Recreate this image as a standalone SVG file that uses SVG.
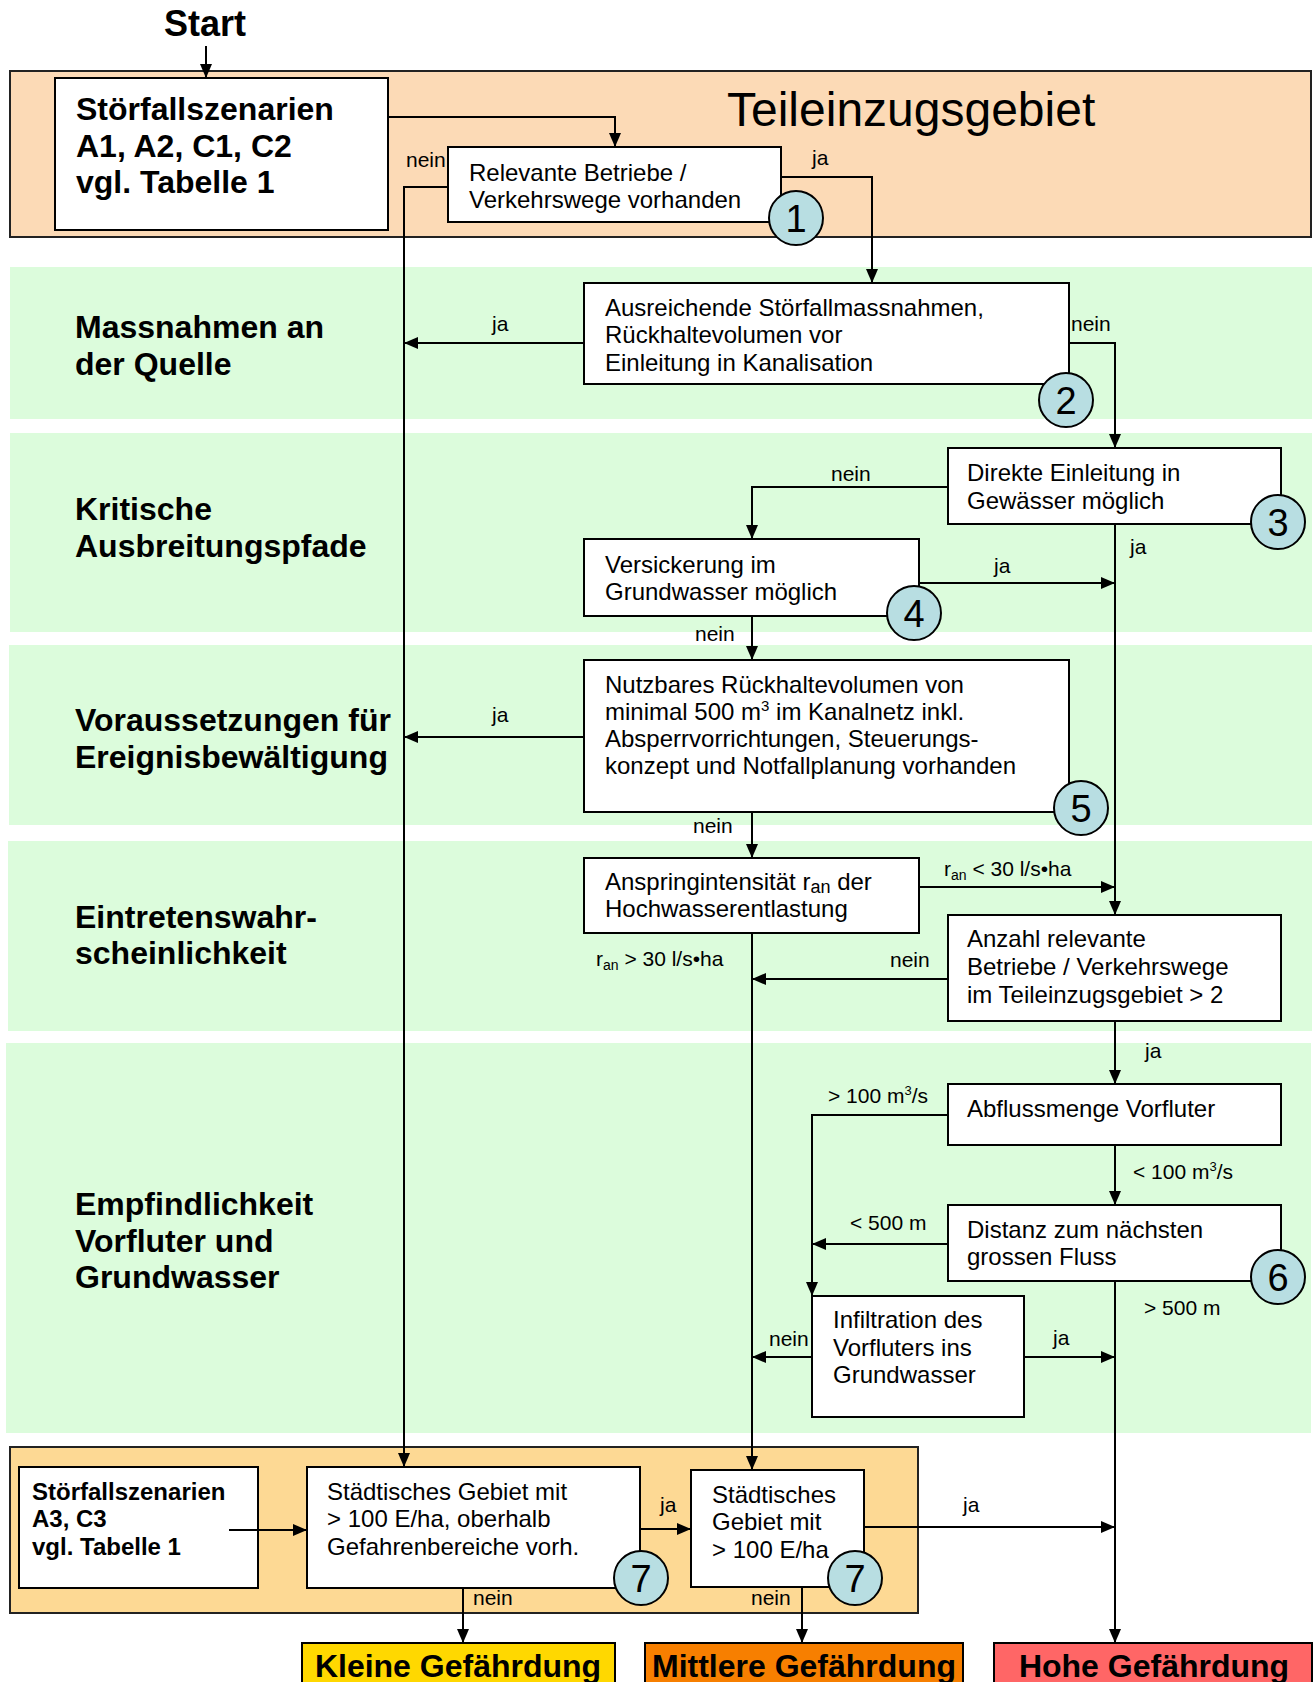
<svg xmlns="http://www.w3.org/2000/svg" width="1316" height="1682" viewBox="0 0 1316 1682">
<style>
text{font-family:"Liberation Sans",Arial,sans-serif;fill:#000}
.t{font-size:24px}
.h{font-size:32px;font-weight:bold}
.hs{font-size:24px;font-weight:bold}
.l{font-size:21px}
.n{font-size:38px;text-anchor:middle}
.box{fill:#fff;stroke:#000;stroke-width:2}
.band{fill:#DCFCDC}
.num{fill:#B8DEE2;stroke:#000;stroke-width:2}
.c{fill:none;stroke:#000;stroke-width:2;marker-end:url(#ah)}
.out{stroke:#000;stroke-width:2}
.ot{font-size:32px;font-weight:bold;text-anchor:middle}
</style>
<defs>
<marker id="ah" viewBox="0 0 14 12" refX="14" refY="6" markerWidth="14" markerHeight="12" markerUnits="userSpaceOnUse" orient="auto">
<path d="M0,0 L14,6 L0,12 z" fill="#000"/>
</marker>
</defs>
<rect width="1316" height="1682" fill="#fff"/>
<g id="bands">
<rect x="10" y="71" width="1301" height="166" fill="#FCDAB6" stroke="#222" stroke-width="2"/>
<rect class="band" x="10" y="267" width="1302" height="152"/>
<rect class="band" x="10" y="433" width="1302" height="199"/>
<rect class="band" x="9" y="645" width="1303" height="180"/>
<rect class="band" x="8" y="841" width="1304" height="190"/>
<rect class="band" x="6" y="1043" width="1305" height="390"/>
<rect x="10" y="1447" width="908" height="166" fill="#FDD994" stroke="#222" stroke-width="2"/>
<text x="727" y="126" style="font-size:48px">Teileinzugsgebiet</text>
<text x="205" y="36" text-anchor="middle" style="font-size:36px;font-weight:bold">Start</text>
</g>
<g id="section-labels">
<text class="h" x="75" y="338">Massnahmen an</text>
<text class="h" x="75" y="375">der Quelle</text>
<text class="h" x="75" y="520">Kritische</text>
<text class="h" x="75" y="557">Ausbreitungspfade</text>
<text class="h" x="75" y="731">Voraussetzungen für</text>
<text class="h" x="75" y="768">Ereignisbewältigung</text>
<text class="h" x="75" y="928">Eintretenswahr-</text>
<text class="h" x="75" y="964">scheinlichkeit</text>
<text class="h" x="75" y="1215">Empfindlichkeit</text>
<text class="h" x="75" y="1252">Vorfluter und</text>
<text class="h" x="75" y="1288">Grundwasser</text>
</g>
<g id="nodes">
<g id="start-a">
<rect class="box" x="55" y="78" width="333" height="152"/>
<text class="h" x="76" y="120">Störfallszenarien</text>
<text class="h" x="76" y="157">A1, A2, C1, C2</text>
<text class="h" x="76" y="193">vgl. Tabelle 1</text>
</g>
<g id="q1">
<rect class="box" x="448" y="147" width="333" height="75"/>
<text class="t" x="469" y="181">Relevante Betriebe /</text>
<text class="t" x="469" y="208">Verkehrswege vorhanden</text>
<circle class="num" cx="796" cy="218" r="27"/>
<text class="n" x="796" y="232">1</text>
</g>
<g id="q2">
<rect class="box" x="584" y="283" width="485" height="101"/>
<text class="t" x="605" y="316">Ausreichende Störfallmassnahmen,</text>
<text class="t" x="605" y="343">Rückhaltevolumen vor</text>
<text class="t" x="605" y="371">Einleitung in Kanalisation</text>
<circle class="num" cx="1066" cy="400" r="27"/>
<text class="n" x="1066" y="414">2</text>
</g>
<g id="q3">
<rect class="box" x="948" y="448" width="333" height="76"/>
<text class="t" x="967" y="481">Direkte Einleitung in</text>
<text class="t" x="967" y="509">Gewässer möglich</text>
<circle class="num" cx="1278" cy="522" r="27"/>
<text class="n" x="1278" y="536">3</text>
</g>
<g id="q4">
<rect class="box" x="584" y="539" width="335" height="77"/>
<text class="t" x="605" y="573">Versickerung im</text>
<text class="t" x="605" y="600">Grundwasser möglich</text>
<circle class="num" cx="914" cy="613" r="27"/>
<text class="n" x="914" y="627">4</text>
</g>
<g id="q5">
<rect class="box" x="584" y="660" width="485" height="152"/>
<text class="t" x="605" y="693">Nutzbares Rückhaltevolumen von</text>
<text class="t" x="605" y="720">minimal 500 m<tspan dy="-9" style="font-size:15px">3</tspan><tspan dy="9"> im Kanalnetz inkl.</tspan></text>
<text class="t" x="605" y="747">Absperrvorrichtungen, Steuerungs-</text>
<text class="t" x="605" y="774">konzept und Notfallplanung vorhanden</text>
<circle class="num" cx="1081" cy="808" r="27"/>
<text class="n" x="1081" y="822">5</text>
</g>
<g id="q6">
<rect class="box" x="584" y="858" width="335" height="75"/>
<text class="t" x="605" y="890">Anspringintensität r<tspan dy="3" style="font-size:18px">an</tspan><tspan dy="-3"> der</tspan></text>
<text class="t" x="605" y="917">Hochwasserentlastung</text>
</g>
<g id="q7">
<rect class="box" x="948" y="915" width="333" height="106"/>
<text class="t" x="967" y="947">Anzahl relevante</text>
<text class="t" x="967" y="975">Betriebe / Verkehrswege</text>
<text class="t" x="967" y="1003">im Teileinzugsgebiet &gt; 2</text>
</g>
<g id="q8">
<rect class="box" x="948" y="1084" width="333" height="61"/>
<text class="t" x="967" y="1117">Abflussmenge Vorfluter</text>
</g>
<g id="q9">
<rect class="box" x="948" y="1205" width="333" height="76"/>
<text class="t" x="967" y="1238">Distanz zum nächsten</text>
<text class="t" x="967" y="1265">grossen Fluss</text>
<circle class="num" cx="1278" cy="1277" r="27"/>
<text class="n" x="1278" y="1291">6</text>
</g>
<g id="q10">
<rect class="box" x="812" y="1296" width="212" height="121"/>
<text class="t" x="833" y="1328">Infiltration des</text>
<text class="t" x="833" y="1356">Vorfluters ins</text>
<text class="t" x="833" y="1383">Grundwasser</text>
</g>
<g id="start-b">
<rect class="box" x="19" y="1467" width="239" height="121"/>
<text class="hs" x="32" y="1500">Störfallszenarien</text>
<text class="hs" x="32" y="1527">A3, C3</text>
<text class="hs" x="32" y="1555">vgl. Tabelle 1</text>
</g>
<g id="q11">
<rect class="box" x="307" y="1467" width="333" height="121"/>
<text class="t" x="327" y="1500">Städtisches Gebiet mit</text>
<text class="t" x="327" y="1527">&gt; 100 E/ha, oberhalb</text>
<text class="t" x="327" y="1555">Gefahrenbereiche vorh.</text>
<circle class="num" cx="641" cy="1578" r="27"/>
<text class="n" x="641" y="1592">7</text>
</g>
<g id="q12">
<rect class="box" x="691" y="1470" width="173" height="117"/>
<text class="t" x="712" y="1503">Städtisches</text>
<text class="t" x="712" y="1530">Gebiet mit</text>
<text class="t" x="712" y="1558">&gt; 100 E/ha</text>
<circle class="num" cx="855" cy="1578" r="27"/>
<text class="n" x="855" y="1592">7</text>
</g>
<g id="out-klein">
<rect class="out" x="302" y="1643" width="313" height="60" fill="#FFD800"/>
<text class="ot" x="458" y="1677">Kleine Gefährdung</text>
</g>
<g id="out-mittel">
<rect class="out" x="645" y="1643" width="318" height="60" fill="#F77F00"/>
<text class="ot" x="804" y="1677">Mittlere Gefährdung</text>
</g>
<g id="out-hoch">
<rect class="out" x="994" y="1643" width="318" height="60" fill="#FF6666"/>
<text class="ot" x="1154" y="1677">Hohe Gefährdung</text>
</g>
</g>
<g id="connectors">
<path class="c" d="M206,46 V78"/>
<path class="c" d="M388,117 H615 V147"/>
<path class="c" d="M448,187 H404 V1467"/>
<path class="c" d="M781,177 H872 V283"/>
<path class="c" d="M584,343 H404"/>
<path class="c" d="M1069,343 H1115 V448"/>
<path class="c" d="M948,487 H752 V539"/>
<path class="c" d="M1115,524 V915"/>
<path class="c" d="M919,583 H1115"/>
<path class="c" d="M752,616 V660"/>
<path class="c" d="M584,737 H404"/>
<path class="c" d="M752,812 V858"/>
<path class="c" d="M919,887 H1115"/>
<path class="c" d="M752,933 V1470"/>
<path class="c" d="M948,979 H752"/>
<path class="c" d="M1115,1021 V1084"/>
<path class="c" d="M948,1115 H812 V1296"/>
<path class="c" d="M1115,1145 V1205"/>
<path class="c" d="M948,1244 H812"/>
<path class="c" d="M1115,1281 V1643"/>
<path class="c" d="M812,1357 H752"/>
<path class="c" d="M1024,1357 H1115"/>
<path class="c" d="M229,1530 H307"/>
<path class="c" d="M640,1529 H691"/>
<path class="c" d="M463,1588 V1643"/>
<path class="c" d="M864,1527 H1115"/>
<path class="c" d="M802,1587 V1643"/>
<text class="l" x="406" y="167">nein</text>
<text class="l" x="812" y="165">ja</text>
<text class="l" x="492" y="331">ja</text>
<text class="l" x="1071" y="331">nein</text>
<text class="l" x="831" y="481">nein</text>
<text class="l" x="1130" y="554">ja</text>
<text class="l" x="994" y="573">ja</text>
<text class="l" x="695" y="641">nein</text>
<text class="l" x="492" y="722">ja</text>
<text class="l" x="693" y="833">nein</text>
<text class="l" x="944" y="876">r<tspan dy="4" style="font-size:14px">an</tspan><tspan dy="-4"> &lt; 30 l/s•ha</tspan></text>
<text class="l" x="596" y="966">r<tspan dy="4" style="font-size:14px">an</tspan><tspan dy="-4"> &gt; 30 l/s•ha</tspan></text>
<text class="l" x="890" y="967">nein</text>
<text class="l" x="1145" y="1058">ja</text>
<text class="l" x="828" y="1103">&gt; 100 m<tspan dy="-8" style="font-size:13px">3</tspan><tspan dy="8">/s</tspan></text>
<text class="l" x="1133" y="1179">&lt; 100 m<tspan dy="-8" style="font-size:13px">3</tspan><tspan dy="8">/s</tspan></text>
<text class="l" x="850" y="1230">&lt; 500 m</text>
<text class="l" x="1144" y="1315">&gt; 500 m</text>
<text class="l" x="769" y="1346">nein</text>
<text class="l" x="1053" y="1345">ja</text>
<text class="l" x="660" y="1512">ja</text>
<text class="l" x="473" y="1605">nein</text>
<text class="l" x="963" y="1512">ja</text>
<text class="l" x="751" y="1605">nein</text>
</g>
</svg>
